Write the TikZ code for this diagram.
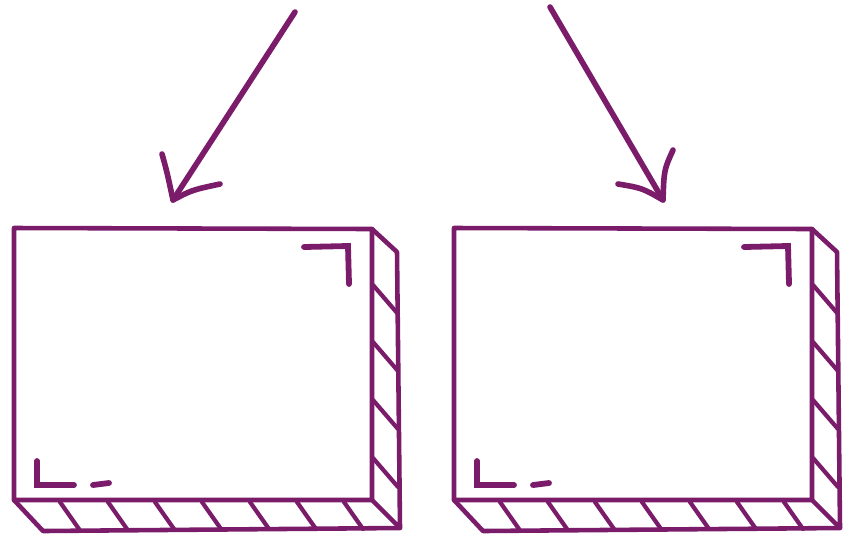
\documentclass[tikz,border=0pt]{standalone}
\usepackage{tikz}
\usetikzlibrary{calc}
\definecolor{plum}{HTML}{7B1C6B}
\tikzset{
  boxline/.style={plum,line width=2.6pt,line join=round,line cap=round},
  markline/.style={plum,line width=3.3pt,line join=miter,line cap=round},
  hatchline/.style={plum,line width=2.4pt,line cap=round},
  arrowline/.style={plum,line width=3.2pt,line cap=round,line join=round},
}

\begin{document}
\begin{tikzpicture}[x=0.02cm,y=-0.02cm]
  \useasboundingbox (0,0) rectangle (864,535);

  % Two slab boxes, second one shifted right
  \foreach \dx in {0,440}{
    \begin{scope}[shift={(\dx,0)}]
      % front face
      \draw[boxline](14,228)--(372,229)--(372,500)--(14,500)--cycle;
      % right side and bottom depth
      \draw[boxline](372,229)--(397,252)--(400,528)--(372,500);
      \draw[boxline](14,500)--(43,531)--(400,528);
      % hatching
      \foreach \x in {60,108,155,202,250,297,344}
        \draw[hatchline](\x,502)--(\x+19,529);
      \foreach \y in {285,342,400,458}
        \draw[hatchline](373,\y)--(398,\y+29);
      % corner marks
      \draw[markline](304,247)--(348,246)--(349,284);
      \draw[markline](37,461)--(37,485)--(74,485);
      \draw[markline](93,485)--(109,483);
    \end{scope}
  }

  % Arrows pointing down into the boxes
  \coordinate (startL) at (295,12);
  \coordinate (tipL) at (173,200);
  \draw[arrowline](startL)--(tipL);
  \draw[arrowline](162,154) .. controls (167,172) .. (tipL)
    .. controls (192,190) .. (220,184);

  \coordinate (startR) at (550,7);
  \coordinate (tipR) at (663,200);
  \draw[arrowline](startR)--(tipR);
  \draw[arrowline](673,150) .. controls (664,170) .. (tipR)
    .. controls (642,188) .. (618,184);
\end{tikzpicture}
\end{document}
